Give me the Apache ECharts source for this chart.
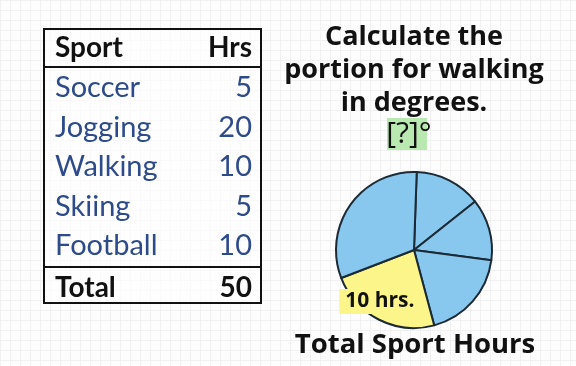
<!DOCTYPE html>
<html>
<head>
<meta charset="utf-8">
<script src="https://cdn.jsdelivr.net/npm/echarts@6/dist/echarts.min.js"></script>
<style>
html,body{margin:0;padding:0;}
body{background-color:#fdfdfd;
background-image:linear-gradient(#f1f1f1 1px, transparent 1px),linear-gradient(90deg,#f1f1f1 1px, transparent 1px);
background-size:10px 10px;}
#main{width:576px;height:366px;}
</style>
</head>
<body>
<div id="main"></div>
<script>
// Table data
const sports = ['Soccer', 'Jogging', 'Walking', 'Skiing', 'Football'];
const hours = [5, 20, 10, 5, 10];
const totalLabel = 'Total';
const totalHours = 50;
const headers = ['Sport', 'Hrs'];

// Pie slices as drawn (approximate angular sizes, clockwise from top)
const sliceNames = ['A', 'B', 'C', 'Walking', 'D'];
const sliceValues = [49.6, 45.9, 67.5, 84, 113];
const sliceLabel = '10 hrs.';

const titleLines = ['Calculate the', 'portion for walking', 'in degrees.'];
const answerText = '[?]°';
const pieTitle = 'Total Sport Hours';

const chart = echarts.init(document.getElementById('main'), null, {renderer: 'canvas'});

const F = 'Lato, "Open Sans", sans-serif';
const blueText = '#2d4a8a';
const graphics = [];
// table frame
graphics.push({type: 'rect', shape: {x: 44, y: 29, width: 217, height: 274}, style: {fill: 'rgba(255,255,255,0.6)', stroke: '#111', lineWidth: 2}});
graphics.push({type: 'line', shape: {x1: 44, y1: 67, x2: 261, y2: 67}, style: {stroke: '#111', lineWidth: 2}});
graphics.push({type: 'line', shape: {x1: 44, y1: 267, x2: 261, y2: 267}, style: {stroke: '#111', lineWidth: 2}});
graphics.push({type: 'text', x: 55, y: 48, style: {text: headers[0], font: 'bold 28px ' + F, fill: '#111', textVerticalAlign: 'middle', textAlign: 'left'}});
graphics.push({type: 'text', x: 252, y: 48, style: {text: headers[1], font: 'bold 28px ' + F, fill: '#111', textVerticalAlign: 'middle', textAlign: 'right'}});
sports.forEach((s, i) => {
  const y = 88 + i * 39.5;
  graphics.push({type: 'text', x: 55, y: y, style: {text: s, font: '29px ' + F, fill: blueText, textVerticalAlign: 'middle', textAlign: 'left'}});
  graphics.push({type: 'text', x: 252, y: y, style: {text: String(hours[i]), font: '29px ' + F, fill: blueText, textVerticalAlign: 'middle', textAlign: 'right'}});
});
graphics.push({type: 'text', x: 55, y: 288, style: {text: totalLabel, font: 'bold 28px ' + F, fill: '#111', textVerticalAlign: 'middle', textAlign: 'left'}});
graphics.push({type: 'text', x: 252, y: 288, style: {text: String(totalHours), font: 'bold 28px ' + F, fill: '#111', textVerticalAlign: 'middle', textAlign: 'right'}});

// title
const TF = '"Open Sans", sans-serif';
titleLines.forEach((t, i) => {
  graphics.push({type: 'text', x: 414, y: 37 + i * 33, style: {text: t, font: 'bold 27px ' + TF, fill: '#111', textAlign: 'center', textVerticalAlign: 'middle'}});
});
graphics.push({type: 'rect', shape: {x: 387, y: 118, width: 40, height: 32}, style: {fill: '#b9e8b0'}});
graphics.push({type: 'text', x: 409, y: 134, style: {text: answerText, font: '30px ' + TF, fill: '#111', textAlign: 'center', textVerticalAlign: 'middle'}});
graphics.push({type: 'text', x: 415, y: 345, style: {text: pieTitle, font: 'bold 27.5px ' + TF, fill: '#111', textAlign: 'center', textVerticalAlign: 'middle'}});

chart.setOption({
  animation: false,
  graphic: graphics,
  series: [{
    type: 'pie',
    center: [414, 250],
    radius: [0, 78],
    startAngle: 88,
    clockwise: true,
    avoidLabelOverlap: false,
    data: sliceNames.map((n, i) => ({
      name: n,
      value: sliceValues[i],
      itemStyle: {color: i === 3 ? '#fbf58a' : '#88c8ee'},
      label: i === 3 ? {show: true} : {show: false}
    })),
    itemStyle: {borderColor: '#1c2a36', borderWidth: 2},
    label: {
      position: 'inside',
      formatter: () => sliceLabel,
      fontFamily: TF, fontWeight: 'bold', fontSize: 21, color: '#111',
      backgroundColor: '#fbf58a', padding: [2, 6]
    },
    labelLine: {show: false},
    labelLayout: (p) => p.dataIndex === 3 ? {dx: -15, dy: 14} : {},
    emphasis: {disabled: true}
  }]
});
</script>
</body>
</html>
